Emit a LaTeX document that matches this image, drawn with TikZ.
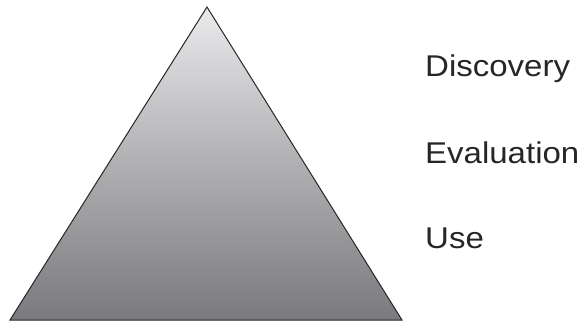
\documentclass[tikz,border=0pt]{standalone}
\usepackage{fontspec}
\setmainfont[FakeStretch=1.1]{Liberation Sans}
\definecolor{topgray}{HTML}{EAEAEC}
\definecolor{midgray}{HTML}{B0B0B2}
\definecolor{botgray}{HTML}{7A7A7E}
\tikzset{
  lbl/.style={anchor=base west, inner sep=0pt, font=\fontsize{30}{34}\selectfont, text=black!85},
  pyr/.style={draw=black!85, line width=1pt, line join=miter, top color=topgray, bottom color=botgray, middle color=midgray}
}
\begin{document}
\begin{tikzpicture}[x=1pt,y=-1pt]
\useasboundingbox (0,0) rectangle (586,322);
\coordinate (apex) at (207,7);
\coordinate (bl) at (10,320);
\coordinate (br) at (402,320);
\path[pyr] (apex) -- (br) -- (bl) -- cycle;
\node[lbl] (disc) at (425,76) {Discovery};
\node[lbl] (eval) at (425,163) {Evaluation};
\node[lbl] (use) at (425,248) {Use};
\end{tikzpicture}
\end{document}
